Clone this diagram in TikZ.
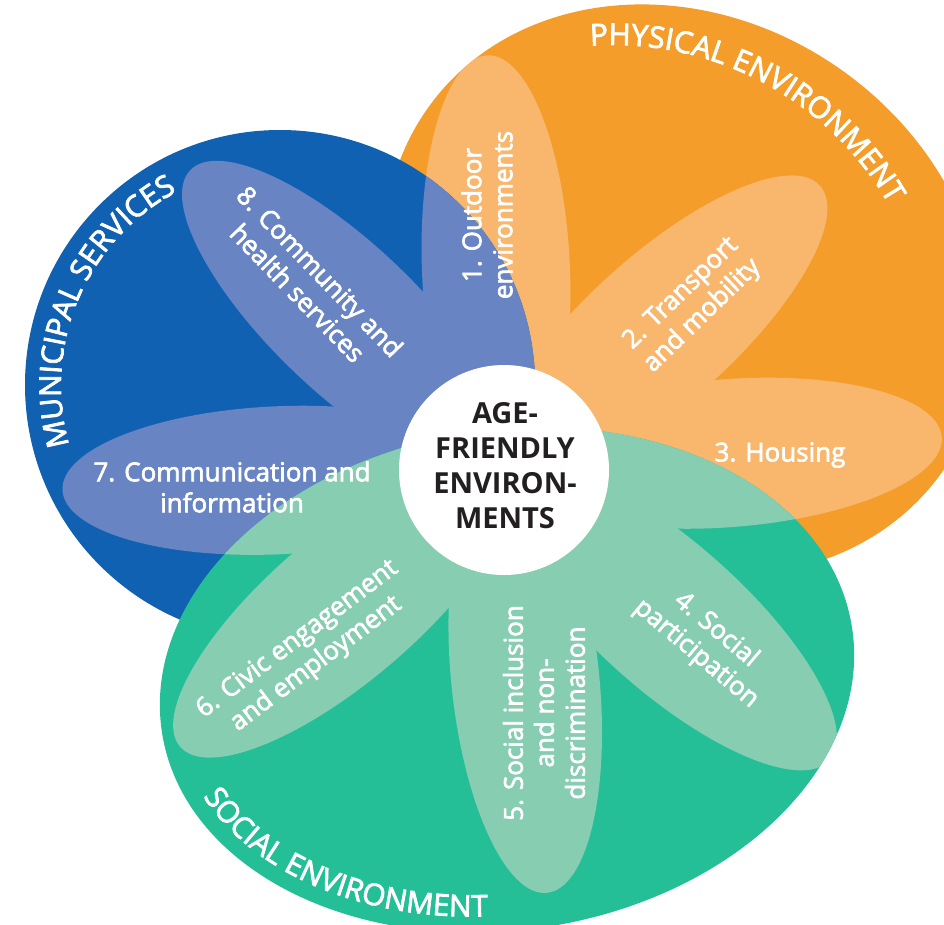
\documentclass[tikz,border=0pt]{standalone}
\usepackage{fontspec}
\setmainfont{Open Sans}
\newfontfamily\lblfont[FakeBold=2.5]{Open Sans}
\usetikzlibrary{decorations.text}
\definecolor{orangeC}{HTML}{F49D2A}
\definecolor{orangeP}{HTML}{F8B76D}
\definecolor{blueC}{HTML}{1161B2}
\definecolor{blueP}{HTML}{6884C3}
\definecolor{greenC}{HTML}{24BE97}
\definecolor{greenP}{HTML}{86CDB1}
\definecolor{darktext}{HTML}{231F20}
\newcommand{\ttlfont}{\lblfont\fontsize{30pt}{33pt}\selectfont}
\newcommand{\allpetals}[1]{%
  \foreach \ang/\dd in {92.3/200,42/210,4.3/224,-41.7/221,-84.2/210,220.5/211,182.6/227,136.3/219}{%
    \fill[#1, shift={(504,-470)}, rotate=\ang] (\dd,0) ellipse[x radius=215, y radius=74];
  }}
\begin{document}
\begin{tikzpicture}[x=1pt, y=1pt,
  petaltext/.style={text=white, font=\lblfont\fontsize{26pt}{31pt}\selectfont, align=center, inner sep=0pt},
  disk/.style={circle, fill=white, minimum size=210pt, inner sep=0pt},
  centertext/.style={text=darktext, font=\bfseries\fontsize{29pt}{35pt}\selectfont, align=center, inner sep=0pt},
  titletext/.style={decorate, decoration={text along path, text align=center, text color=white, text={|\ttlfont|#1}}}]
\useasboundingbox (0,0) rectangle (944,-924);
\clip (0,0) rectangle (944,-924);
% physical environment (orange)
\fill[orangeC, rotate around={-35:(685,-290)}] (685,-290) ellipse[x radius=315, y radius=270];
\begin{scope}
  \clip[rotate around={-35:(685,-290)}] (685,-290) ellipse[x radius=315, y radius=270];
  \allpetals{orangeP}
\end{scope}
% municipal services (blue)
\fill[blueC] (280,-385) circle[radius=255];
\begin{scope}
  \clip (280,-385) circle[radius=255];
  \allpetals{blueP}
\end{scope}
% social environment (green)
\fill[greenC, rotate around={8.5:(507,-680)}] (507,-680) ellipse[x radius=349, y radius=250];
\begin{scope}
  \clip[rotate around={8.5:(507,-680)}] (507,-680) ellipse[x radius=349, y radius=250];
  \allpetals{greenP}
\end{scope}
% hub
\node[disk] (hub) at (504,-470) {};
\node[centertext] (hubtext) at (505,-466) {AGE-\\FRIENDLY\\ENVIRON-\\MENTS};
% petal labels
\node[petaltext, rotate=90] (t1) at (487,-215) {1. Outdoor\\environments};
\node[petaltext, rotate=44] (t2) at (692,-305) {2. Transport\\and mobility};
\node[petaltext] (t3) at (780,-455) {3. Housing};
\node[petaltext, rotate=-40] (t4) at (706,-642) {4. Social\\participation};
\node[petaltext, rotate=90] (t5) at (544,-713) {5. Social inclusion\\and non-\\discrimination};
\node[petaltext, rotate=37] (t6) at (307,-652) {6. Civic engagement\\and employment};
\node[petaltext] (t7) at (232,-487) {7. Communication and\\information};
\node[petaltext, rotate=-46] (t8) at (309,-282) {8. Community and\\health services};
% titles along the rims
\path[titletext={PHYSICAL ENVIRONMENT}] ([shift={(114:318)}]613,-363) arc[start angle=114, end angle=10, radius=318];
\path[titletext={MUNICIPAL SERVICES}] ([shift={(202:219)}]280,-385) arc[start angle=202, end angle=112, radius=219];
\path[titletext={SOCIAL ENVIRONMENT}] plot[domain=176:276, samples=120, variable=\q]
  ({507+333*cos(\q)*cos(8.5)-234*sin(\q)*sin(8.5)}, {-680+333*cos(\q)*sin(8.5)+234*sin(\q)*cos(8.5)});
\end{tikzpicture}
\end{document}
